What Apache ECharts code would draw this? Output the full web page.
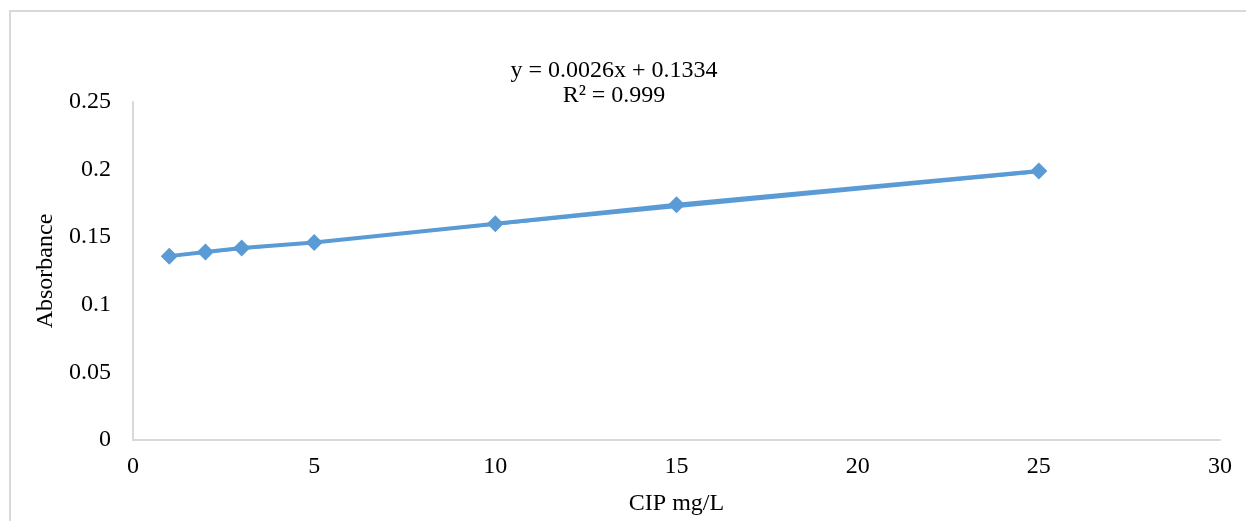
<!DOCTYPE html>
<html>
<head>
<meta charset="utf-8">
<script src="https://cdn.jsdelivr.net/npm/echarts@6/dist/echarts.min.js"></script>
<style>
html,body{margin:0;padding:0;background:#fff;}
#frame{position:absolute;left:9px;top:10px;width:1250px;height:520px;border:2px solid #D9D9D9;box-sizing:border-box;}
#chart{position:absolute;left:0;top:0;width:1246px;height:521px;}
</style>
</head>
<body>
<div id="frame"></div>
<div id="chart"></div>
<script>
const concentrations = [1, 2, 3, 5, 10, 15, 25];
const absorbance = [0.136, 0.139, 0.142, 0.146, 0.160, 0.174, 0.199];
const trendX = [1, 25];
const trendY = [0.136, 0.198];
const equationText = 'y = 0.0026x + 0.1334';
const r2Text = 'R² = 0.999';
const xTitle = 'CIP mg/L';
const yTitle = 'Absorbance';

const font = '"Liberation Serif", "Times New Roman", serif';
const blue = '#5B9BD5';
const chart = echarts.init(document.getElementById('chart'), null, {renderer: 'canvas'});
chart.setOption({
  animation: false,
  textStyle: {fontFamily: font},
  grid: {left: 133, right: 26, top: 102, bottom: 81, containLabel: false},
  xAxis: {
    type: 'value', min: 0, max: 30, interval: 5,
    name: xTitle, nameLocation: 'middle', nameGap: 52,
    nameTextStyle: {fontFamily: font, fontSize: 24, color: '#000'},
    axisLine: {show: true, lineStyle: {color: '#D9D9D9', width: 2}},
    axisTick: {show: false},
    splitLine: {show: false},
    axisLabel: {fontFamily: font, fontSize: 24, color: '#000', margin: 15}
  },
  yAxis: {
    type: 'value', min: 0, max: 0.25, interval: 0.05,
    name: yTitle, nameLocation: 'middle', nameGap: 74,
    nameTextStyle: {fontFamily: font, fontSize: 24, color: '#000'},
    axisLine: {show: true, lineStyle: {color: '#D9D9D9', width: 2}},
    axisTick: {show: false},
    splitLine: {show: false},
    axisLabel: {fontFamily: font, fontSize: 24, color: '#000', margin: 22,
      formatter: v => String(parseFloat(v.toFixed(2)))}
  },
  graphic: [
    {type: 'text', x: 614, y: 71, style: {text: equationText, font: '24px ' + font, fill: '#000', textAlign: 'center', textVerticalAlign: 'middle'}},
    {type: 'text', x: 614, y: 96, style: {text: r2Text, font: '24px ' + font, fill: '#000', textAlign: 'center', textVerticalAlign: 'middle'}}
  ],
  series: [
    {
      type: 'line',
      data: trendX.map((x, i) => [x, trendY[i]]),
      symbol: 'none',
      lineStyle: {color: blue, width: 2},
      z: 1
    },
    {
      type: 'line',
      data: concentrations.map((x, i) => [x, absorbance[i]]),
      symbol: 'diamond',
      symbolSize: 17,
      itemStyle: {color: blue},
      lineStyle: {color: blue, width: 4},
      z: 2
    }
  ]
});
</script>
</body>
</html>
